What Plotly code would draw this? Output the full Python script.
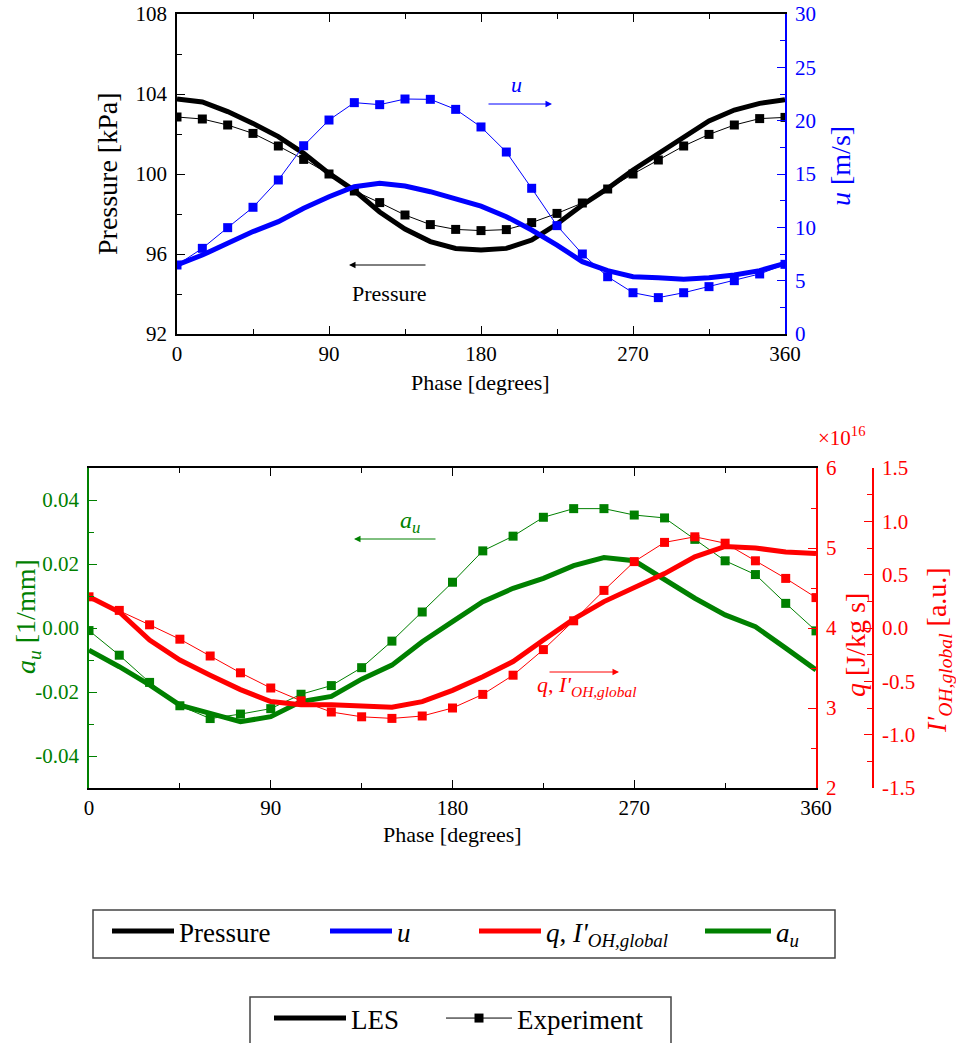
import plotly.graph_objects as go

W, H = 956, 1043

# ---------------- data ----------------
phase_exp = [0, 15, 30, 45, 60, 75, 90, 105, 120, 135, 150, 165, 180,
             195, 210, 225, 240, 255, 270, 285, 300, 315, 330, 345, 360]
phase_les = phase_exp

pressure_exp = [102.85, 102.75, 102.45, 102.03, 101.4, 100.73, 100.0, 99.15, 98.57, 97.95, 97.47, 97.23, 97.17,
                97.22, 97.57, 98.03, 98.55, 99.25, 100.0, 100.7, 101.4, 101.98, 102.45, 102.77, 102.83]
pressure_les = [103.75, 103.6, 103.12, 102.53, 101.87, 101.03, 100.03, 99.17, 98.1, 97.25, 96.62, 96.28, 96.2,
                96.28, 96.7, 97.5, 98.45, 99.28, 100.2, 101.03, 101.87, 102.65, 103.2, 103.53, 103.72]

u_exp = [6.47, 8.03, 9.97, 11.88, 14.44, 17.65, 20.06, 21.69, 21.5, 22.03, 22.0, 21.06, 19.41,
         17.06, 13.66, 10.16, 7.5, 5.37, 3.87, 3.41, 3.87, 4.44, 5.0, 5.63, 6.53]
u_les = [6.47, 7.4, 8.5, 9.6, 10.53, 11.78, 12.87, 13.81, 14.13, 13.88, 13.34, 12.72, 11.98,
         11.0, 9.75, 8.34, 6.78, 5.94, 5.37, 5.28, 5.13, 5.28, 5.53, 5.94, 6.62]

au_exp = [-0.0008, -0.0085, -0.017, -0.0243, -0.0283, -0.0269, -0.0252, -0.0207, -0.018, -0.0124, -0.0041, 0.005, 0.0143,
          0.0241, 0.0287, 0.0346, 0.0373, 0.0373, 0.0353, 0.0344, 0.0277, 0.021, 0.0167, 0.0077, -0.0009]
au_les = [-0.0069, -0.0121, -0.0178, -0.0241, -0.0267, -0.0293, -0.0277, -0.023, -0.0214, -0.016, -0.0116, -0.0043, 0.002,
          0.0082, 0.0124, 0.0155, 0.0195, 0.022, 0.021, 0.015, 0.0093, 0.0041, 0.0004, -0.0063, -0.0131]

q_exp = [4.39, 4.22, 4.04, 3.86, 3.65, 3.44, 3.25, 3.09, 2.95, 2.89, 2.87, 2.9, 3.0,
         3.17, 3.41, 3.73, 4.09, 4.47, 4.83, 5.07, 5.14, 5.06, 4.84, 4.62, 4.38]
q_les = [4.39, 4.2, 3.85, 3.6, 3.41, 3.23, 3.08, 3.04, 3.04, 3.02, 3.01, 3.08, 3.22,
         3.39, 3.58, 3.85, 4.11, 4.33, 4.5, 4.68, 4.89, 5.02, 5.0, 4.95, 4.93]

x_ticks = [0, 90, 180, 270, 360]
p_ticks = [92, 96, 100, 104, 108]
u_ticks = [0, 5, 10, 15, 20, 25, 30]
au_ticks = [-0.04, -0.02, 0.00, 0.02, 0.04]
au_ticktext = ["-0.04", "-0.02", "0.00", "0.02", "0.04"]
q_ticks = [2, 3, 4, 5, 6]
i_ticks = [-1.5, -1.0, -0.5, 0.0, 0.5, 1.0, 1.5]
i_ticktext = ["-1.5", "-1.0", "-0.5", "0.0", "0.5", "1.0", "1.5"]

# ---------------- style ----------------
FONT = "Liberation Serif"
BLACK, BLUE, RED, GREEN = "#000000", "#0000FF", "#FF0000", "#008000"
LES_W = 5
EXP_W = 1
MS = 9


def px(x):
    return x / W


def py(y):
    return 1 - y / H


fig = go.Figure()

# top panel
fig.add_trace(go.Scatter(x=phase_les, y=pressure_les, mode="lines", line=dict(color=BLACK, width=LES_W),
                         xaxis="x", yaxis="y", showlegend=False))
fig.add_trace(go.Scatter(x=phase_exp, y=pressure_exp, mode="lines+markers", line=dict(color=BLACK, width=EXP_W),
                         marker=dict(symbol="square", size=MS, color=BLACK),
                         xaxis="x", yaxis="y", showlegend=False))
fig.add_trace(go.Scatter(x=phase_les, y=u_les, mode="lines", line=dict(color=BLUE, width=LES_W),
                         xaxis="x", yaxis="y2", showlegend=False))
fig.add_trace(go.Scatter(x=phase_exp, y=u_exp, mode="lines+markers", line=dict(color=BLUE, width=EXP_W),
                         marker=dict(symbol="square", size=MS, color=BLUE),
                         xaxis="x", yaxis="y2", showlegend=False))

# bottom panel
fig.add_trace(go.Scatter(x=phase_les, y=au_les, mode="lines", line=dict(color=GREEN, width=LES_W),
                         xaxis="x2", yaxis="y3", showlegend=False))
fig.add_trace(go.Scatter(x=phase_exp, y=au_exp, mode="lines+markers", line=dict(color=GREEN, width=EXP_W),
                         marker=dict(symbol="square", size=MS, color=GREEN),
                         xaxis="x2", yaxis="y3", showlegend=False))
fig.add_trace(go.Scatter(x=phase_les, y=q_les, mode="lines", line=dict(color=RED, width=LES_W),
                         xaxis="x2", yaxis="y4", showlegend=False))
fig.add_trace(go.Scatter(x=phase_exp, y=q_exp, mode="lines+markers", line=dict(color=RED, width=EXP_W),
                         marker=dict(symbol="square", size=MS, color=RED),
                         xaxis="x2", yaxis="y4", showlegend=False))
# placeholder so the I' axis is drawn
fig.add_trace(go.Scatter(x=[None], y=[None], mode="lines", xaxis="x2", yaxis="y5",
                         showlegend=False, hoverinfo="skip"))

# legend entries: one small legend per entry, placed like the reference
LEG_FONT = 27
legend_entries = [
    # name, colour, mode, legend id, x (px), y top (px), item width
    ("Pressure", BLACK, "lines", "legend", 107, 907, 62),
    ("<i>u</i>", BLUE, "lines", "legend2", 325, 907, 62),
    ("<i>q</i>, <i>I'</i><sub><i>OH,global</i></sub>", RED, "lines", "legend3", 474, 907, 62),
    ("<i>a<sub>u</sub></i>", GREEN, "lines", "legend4", 700, 907, 66),
    ("LES", BLACK, "lines", "legend5", 269, 994, 72),
    ("Experiment", BLACK, "lines+markers", "legend6", 441, 994, 66),
]
legend_layout = {}
for name, col, mode, lid, lx, ly, iw in legend_entries:
    exp = mode == "lines+markers"
    fig.add_trace(go.Scatter(x=[None], y=[None], mode=mode, name=name,
                             line=dict(color=col, width=EXP_W if exp else LES_W),
                             marker=dict(symbol="square", size=MS, color=col),
                             legend=lid, xaxis="x", yaxis="y"))
    legend_layout[lid] = dict(x=px(lx), y=py(ly), xanchor="left", yanchor="top", orientation="h",
                              borderwidth=0, bgcolor="rgba(0,0,0,0)",
                              font=dict(family=FONT, size=LEG_FONT, color=BLACK), itemwidth=iw)

legend_boxes = [(93, 910, 835, 958), (250, 997, 671, 1045)]
shapes = [dict(type="rect", xref="paper", yref="paper", x0=px(a), x1=px(c), y0=py(d), y1=py(b),
               line=dict(color="#444444", width=1.5), fillcolor="rgba(0,0,0,0)", layer="below")
          for a, b, c, d in legend_boxes]

TICKF = 21


def xax(domain, anchor):
    return dict(domain=domain, anchor=anchor, range=[0, 360], tickvals=x_ticks,
                ticks="inside", ticklen=8, tickwidth=1.2, tickcolor=BLACK,
                minor=dict(dtick=45, tick0=0, ticks="inside", ticklen=5, tickcolor=BLACK, tickwidth=1.2),
                showline=True, linecolor=BLACK, linewidth=1.5, mirror="ticks", automargin=False,
                showgrid=False, zeroline=False, tickfont=dict(family=FONT, size=TICKF, color=BLACK),
                ticklabelstandoff=0)


def yax(col, rng, tickvals, minor_dtick, domain=None, **kw):
    d = dict(range=rng, tickvals=tickvals, ticks="inside", ticklen=8, tickwidth=1.2, tickcolor=col,
             minor=dict(dtick=minor_dtick, tick0=rng[0], ticks="inside", ticklen=5, tickcolor=col, tickwidth=1.2),
             showline=True, linecolor=col, linewidth=1.5, showgrid=False, zeroline=False, automargin=False,
             tickfont=dict(family=FONT, size=TICKF, color=col), ticklabelstandoff=4)
    if domain is not None:
        d["domain"] = domain
    d.update(kw)
    return d


top_dom_x = [px(177), px(785)]
top_dom_y = [py(334), py(14)]
bot_dom_x = [px(89), px(816)]
bot_dom_y = [py(788), py(468)]

annotations = [
    # axis titles
    dict(text="Pressure [kPa]", x=px(108), y=py(174), textangle=-90, font=dict(size=28, color=BLACK)),
    dict(text="<i>u</i> [m/s]", x=px(841), y=py(166), textangle=-90, font=dict(size=28, color=BLUE)),
    dict(text="Phase [degrees]", x=px(481), y=py(382), font=dict(size=22, color=BLACK)),
    dict(text="Phase [degrees]", x=px(452), y=py(834), font=dict(size=22, color=BLACK)),
    dict(text="<i>a<sub>u</sub></i> [1/mm]", x=px(27), y=py(617), textangle=-90, font=dict(size=28, color=GREEN)),
    dict(text="<i>q</i> [J/kg s]", x=px(855), y=py(645), textangle=-90, font=dict(size=28, color=RED)),
    dict(text="<i>I'</i><sub><i>OH,global</i></sub> [a.u.]", x=px(938), y=py(650), textangle=-90,
         font=dict(size=28, color=RED)),
    dict(text="×10<sup>16</sup>", x=px(842), y=py(436), font=dict(size=21, color=RED)),
    # in-plot labels
    dict(text="<i>u</i>", x=px(516), y=py(84), font=dict(size=22, color=BLUE)),
    dict(text="Pressure", x=px(389), y=py(293), font=dict(size=22, color=BLACK)),
    dict(text="<i>a<sub>u</sub></i>", x=px(410), y=py(522), font=dict(size=24, color=GREEN)),
    dict(text="<i>q</i>, <i>I'</i><sub><i>OH,global</i></sub>", x=px(586), y=py(686), font=dict(size=22, color=RED)),
]
for a in annotations:
    a.update(xref="paper", yref="paper", showarrow=False, xanchor="center", yanchor="middle")
    a["font"]["family"] = FONT

arrows = [
    (487, 552, 104, BLUE),   # tail x, head x, y
    (427, 349, 265, BLACK),
    (437, 354, 539, GREEN),
    (548, 619, 672, RED),
]
for tx, hx, yy, col in arrows:
    annotations.append(dict(xref="paper", yref="paper", x=px(hx), y=py(yy), ax=tx - hx, ay=0,
                            axref="pixel", ayref="pixel", text="", showarrow=True,
                            arrowhead=2, arrowsize=1.3, arrowwidth=1, arrowcolor=col))

fig.update_layout(
    width=W, height=H, autosize=False,
    margin=dict(l=0, r=0, t=0, b=0, pad=0, autoexpand=False),
    paper_bgcolor="white", plot_bgcolor="white",
    font=dict(family=FONT, color=BLACK),
    xaxis=xax(top_dom_x, "y"),
    yaxis=yax(BLACK, [92, 108], p_ticks, 2, domain=top_dom_y, anchor="x"),
    yaxis2=yax(BLUE, [0, 30], u_ticks, 2.5, overlaying="y", side="right", anchor="x"),
    xaxis2=xax(bot_dom_x, "y3"),
    yaxis3=yax(GREEN, [-0.05, 0.05], au_ticks, 0.01, domain=bot_dom_y, anchor="x2", ticktext=au_ticktext),
    yaxis4=yax(RED, [2, 6], q_ticks, 0.5, overlaying="y3", side="right", anchor="x2"),
    yaxis5=yax(RED, [-1.5, 1.5], i_ticks, 0.25, overlaying="y3", side="right", anchor="free",
               position=px(873), ticktext=i_ticktext),
    annotations=annotations,
    shapes=shapes,
    **legend_layout,
)

fig.write_html("out.html", post_script="document.body.style.margin='0px';",
               config={"displayModeBar": False})
